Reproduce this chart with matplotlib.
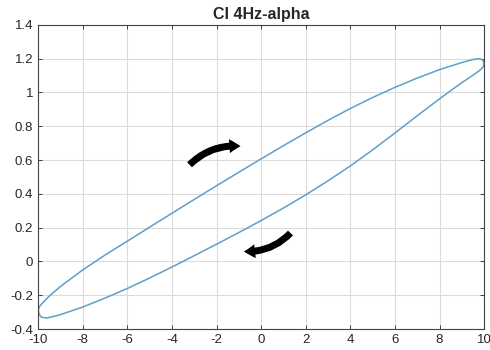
import numpy as np
import matplotlib
matplotlib.use("Agg")
import matplotlib.pyplot as plt
from matplotlib.patches import FancyArrowPatch

plt.rcParams['font.family'] = ['Liberation Sans', 'DejaVu Sans']

# upper branch of the loop (left tip -> right tip)
x_up = [-10, -9.95, -9.8, -9.5, -9, -8, -7, -6, -5, -4, -3, -2, -1, 0,
        1, 2, 3, 4, 5, 6, 7, 8, 9, 9.5, 9.8, 9.95, 10]
y_up = [-0.29, -0.268, -0.245, -0.205, -0.148, -0.05, 0.038, 0.12, 0.203, 0.285, 0.367, 0.448, 0.528, 0.607,
        0.685, 0.761, 0.835, 0.905, 0.97, 1.03, 1.085, 1.135, 1.177, 1.195, 1.2, 1.19, 1.168]

# lower branch (right tip -> left tip)
x_lo = [10, 9.95, 9.8, 9.5, 9, 8, 7, 6, 5, 4, 3, 2, 1, 0,
        -1, -2, -3, -4, -5, -6, -7, -8, -9, -9.6, -9.85, -9.95, -10]
y_lo = [1.168, 1.15, 1.13, 1.102, 1.058, 0.962, 0.862, 0.76, 0.66, 0.565, 0.477, 0.394, 0.316, 0.242,
        0.171, 0.102, 0.034, -0.033, -0.098, -0.16, -0.217, -0.27, -0.315, -0.335, -0.33, -0.315, -0.29]

xticks = [-10, -8, -6, -4, -2, 0, 2, 4, 6, 8, 10]
yticks = [-0.4, -0.2, 0, 0.2, 0.4, 0.6, 0.8, 1, 1.2, 1.4]
ylabels = ['-0.4', '-0.2', '0', '0.2', '0.4', '0.6', '0.8', '1', '1.2', '1.4']

# direction arrows: (tail, head)
arrow_up = ((-3.3, 0.56), (-0.8, 0.68))
arrow_lo = ((1.4, 0.18), (-0.9, 0.06))

fig = plt.figure(figsize=(4.9, 3.5), dpi=100)
ax = fig.add_axes([0.078, 0.06, 0.91, 0.869])

line_col = '#5e9fca'
ax.plot(x_up + x_lo, y_up + y_lo, color=line_col, lw=1.1)

ax.set_xlim(-10, 10)
ax.set_ylim(-0.4, 1.4)
ax.set_xticks(xticks)
ax.set_xticklabels([str(v) for v in xticks])
ax.set_yticks(yticks)
ax.set_yticklabels(ylabels)
ax.grid(True, color='#dcdcdc', lw=0.8)
ax.set_axisbelow(True)
ax.tick_params(direction='in', top=True, right=True, length=3,
               labelsize=9.5, colors='#262626', width=0.6)
for s in ax.spines.values():
    s.set_color('#444444')
    s.set_linewidth(0.8)

ax.set_title('CI 4Hz-alpha', fontsize=11.5, fontweight='bold', color='#262626', pad=4)

for tail, head in (arrow_up, arrow_lo):
    ax.add_patch(FancyArrowPatch(tail, head, connectionstyle='arc3,rad=-0.25',
                                 arrowstyle='simple,head_width=10,head_length=8,tail_width=5',
                                 color='black', lw=0, mutation_scale=1))

fig.savefig('out.png', dpi=100)
